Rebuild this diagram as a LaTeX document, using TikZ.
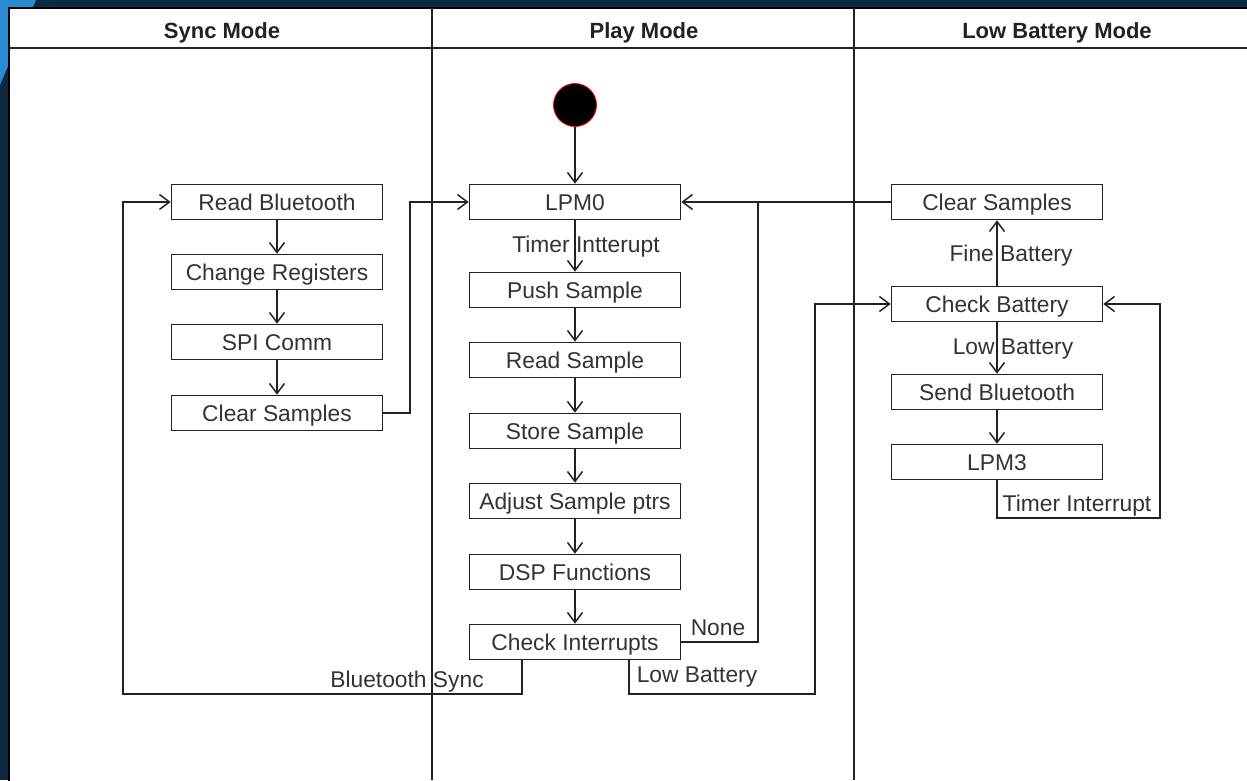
\documentclass[tikz,border=0pt]{standalone}
\usepackage{fontspec}
\setmainfont{Liberation Sans}
\usetikzlibrary{arrows.meta}
\definecolor{navy}{HTML}{0E2A42}
\definecolor{cornerblue}{HTML}{2A8AD2}
\definecolor{ink}{HTML}{222222}
\definecolor{txt}{HTML}{333333}
\begin{document}
\begin{tikzpicture}[x=1pt,y=-1pt,
  box/.style={draw=ink,line width=1.6pt,fill=white,minimum width=211pt,minimum height=35pt,inner sep=0pt,text height=16.3pt,text depth=0pt,text=txt,font=\fontsize{22.8}{26}\selectfont},
  lab/.style={inner sep=0pt,text height=16.3pt,text depth=0pt,text=txt,font=\fontsize{22.8}{26}\selectfont},
  head/.style={inner sep=0pt,text height=15.8pt,text depth=0pt,text=ink,font=\fontsize{22}{26}\selectfont\bfseries},
  arr/.style={draw=ink,line width=1.5pt,-{Straight Barb[length=10pt,width=15pt]}},
  ln/.style={draw=ink,line width=1.5pt}]
\useasboundingbox (0,0) rectangle (1247,780);
\fill[navy] (0,0) rectangle (1247,780);
\fill[cornerblue] (0,0) -- (36,0) -- (0,85) -- cycle;
\draw[draw=black,line width=2pt,fill=white] (9,8) rectangle (1260,800);
\draw[ln] (9,48) -- (1247,48);
\draw[ln] (432,8) -- (432,780);
\draw[ln] (854,8) -- (854,780);
\node[head] (h1) at (222,31) {Sync Mode};
\node[head] (h2) at (644,31) {Play Mode};
\node[head] (h3) at (1057,31) {Low Battery Mode};
% sync column
\node[box] (rb) at (277,202) {Read Bluetooth};
\node[box] (cr) at (277,272) {Change Registers};
\node[box] (spi) at (277,342) {SPI Comm};
\node[box] (cs1) at (277,413) {Clear Samples};
% play column
\node[circle,draw=red,fill=black,line width=0.8pt,minimum size=43pt,inner sep=0pt] (start) at (575,105) {};
\node[box] (lpm0) at (575,202) {LPM0};
\node[box] (push) at (575,290) {Push Sample};
\node[box] (rs) at (575,360) {Read Sample};
\node[box] (ss) at (575,431) {Store Sample};
\node[box] (adj) at (575,501) {Adjust Sample ptrs};
\node[box] (dsp) at (575,572) {DSP Functions};
\node[box] (ci) at (575,642) {Check Interrupts};
% low battery column
\node[box] (cs2) at (997,202) {Clear Samples};
\node[box] (cb) at (997,304) {Check Battery};
\node[box] (sb) at (997,392) {Send Bluetooth};
\node[box] (lpm3) at (997,462) {LPM3};
% coordinates
\coordinate (j1) at (758,202);
\coordinate (b1) at (123,694);
\coordinate (l1) at (815,694);
\coordinate (s1) at (410,413);
\coordinate (t1) at (1160,518);
% connectors
\draw[arr] (start) -- (lpm0);
\draw[arr] (lpm0) -- (push);
\draw[arr] (push) -- (rs);
\draw[arr] (rs) -- (ss);
\draw[arr] (ss) -- (adj);
\draw[arr] (adj) -- (dsp);
\draw[arr] (dsp) -- (ci);
\draw[arr] (ci.east) -| (j1) -- (lpm0.east);
\draw[ln] (cs2.west) -- (j1);
\draw[arr] ([xshift=-53pt]ci.south) |- (b1) |- (rb.west);
\draw[arr] ([xshift=54pt]ci.south) |- (l1) |- (cb.west);
\draw[arr] (cs1.east) -- (s1) |- (lpm0.west);
\draw[arr] (rb) -- (cr);
\draw[arr] (cr) -- (spi);
\draw[arr] (spi) -- (cs1);
\draw[arr] (cb) -- (cs2);
\draw[arr] (cb) -- (sb);
\draw[arr] (sb) -- (lpm3);
\draw[arr] (lpm3.south) |- (t1) |- (cb.east);
% labels
\node[lab] (lti) at (586,244) {Timer Intterupt};
\node[lab] (lnone) at (718,627) {None};
\node[lab] (llb1) at (697,674) {Low Battery};
\node[lab] (lbs) at (407,679) {Bluetooth Sync};
\node[lab] (lfb) at (1011,253) {Fine Battery};
\node[lab] (llb2) at (1013,346) {Low Battery};
\node[lab] (ltint) at (1077,503) {Timer Interrupt};
\end{tikzpicture}
\end{document}
